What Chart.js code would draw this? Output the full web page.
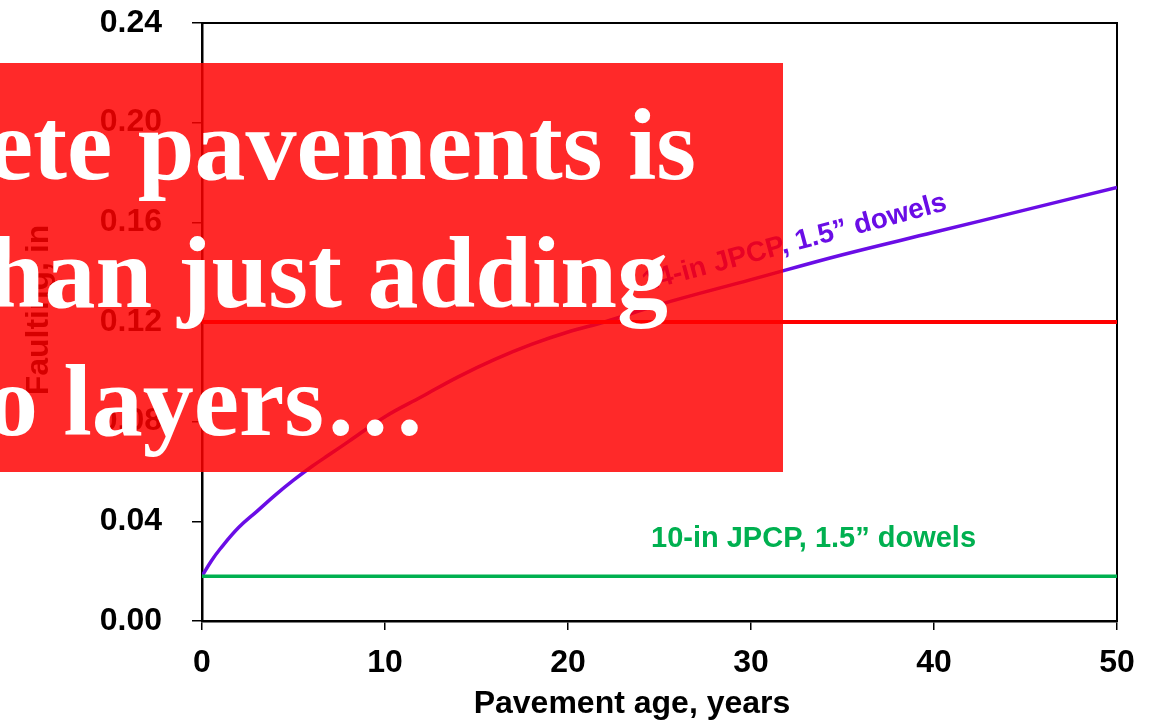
<!DOCTYPE html>
<html>
<head>
<meta charset="utf-8">
<script src="https://cdn.jsdelivr.net/npm/chart.js@4/dist/chart.umd.min.js"></script>
<style>
  html, body { margin: 0; padding: 0; background: #fff; }
  #wrap { width: 1155px; height: 728px; position: relative; }
</style>
</head>
<body>
<div id="wrap"><canvas id="chart"></canvas></div>
<script>
const years = [0, 0.5, 1, 2, 3, 4, 5, 6, 7, 8, 10, 12, 14, 16, 18, 20, 22, 25, 30, 35, 40, 45, 50];
const faulting14 = [0.018, 0.024, 0.029, 0.0375, 0.044, 0.0505, 0.0565, 0.062, 0.067, 0.072, 0.082, 0.090,
  0.098, 0.105, 0.111, 0.116, 0.120, 0.127, 0.137, 0.147, 0.156, 0.165, 0.174];
const flatYears = [0, 50];
const faulting10 = [0.018, 0.018];
const limitLine = [0.12, 0.12];

const xTicks = [0, 10, 20, 30, 40, 50];
const yTicks = [0, 0.04, 0.08, 0.12, 0.16, 0.20, 0.24];

const xTitle = 'Pavement age, years';
const yTitle = 'Faulting, in';
const label14 = '14-in JPCP, 1.5\u201D dowels';
const label10 = '10-in JPCP, 1.5\u201D dowels';
const slideLines = ['ete pavements is', 'han just adding', 'o layers\u2026'];

const SANS = "Arial, 'Liberation Sans', sans-serif";
const SERIF = "'Times New Roman', 'Liberation Serif', serif";
const PURPLE = '#6A0DE6';
const GREEN = '#00B050';
const RED = '#FF0000';

const pts = (xs, ys) => xs.map((x, i) => ({ x, y: ys[i] }));

const overlay = {
  id: 'overlay',
  beforeDatasetsDraw(chart) {
    const { ctx, chartArea: a } = chart;
    ctx.save();
    ctx.strokeStyle = '#000';
    ctx.lineWidth = 2;
    ctx.strokeRect(a.left, a.top, a.right - a.left, a.bottom - a.top);
    ctx.restore();
  },
  afterDraw(chart) {
    const { ctx } = chart;
    ctx.save();
    // axis titles
    ctx.fillStyle = '#000';
    ctx.font = `bold 32px ${SANS}`;
    ctx.textAlign = 'center';
    ctx.textBaseline = 'middle';
    ctx.fillText(xTitle, 632, 704);
    ctx.save();
    ctx.translate(39, 310);
    ctx.rotate(-Math.PI / 2);
    ctx.fillText(yTitle, 0, 0);
    ctx.restore();

    // series labels
    ctx.font = `bold 29px ${SANS}`;
    ctx.fillStyle = GREEN;
    ctx.textAlign = 'left';
    ctx.textBaseline = 'alphabetic';
    ctx.fillText(label10, 651, 547);

    ctx.save();
    ctx.font = `bold 28px ${SANS}`;
    ctx.fillStyle = PURPLE;
    ctx.translate(645, 291);
    ctx.rotate(-15 * Math.PI / 180);
    ctx.fillText(label14, 0, 0);
    ctx.restore();

    // slide box on top
    ctx.fillStyle = 'rgba(255, 0, 0, 0.84)';
    ctx.fillRect(0, 63, 783, 409);
    ctx.fillStyle = '#fff';
    ctx.font = `bold 102px ${SERIF}`;
    ctx.textAlign = 'right';
    ctx.fillText(slideLines[0], 696, 179);
    ctx.fillText(slideLines[1], 668, 307);
    ctx.fillText(slideLines[2], 426, 435);
    ctx.restore();
  }
};

new Chart(document.getElementById('chart'), {
  type: 'scatter',
  data: {
    datasets: [
      {
        label: '14-in',
        data: pts(years, faulting14),
        showLine: true,
        borderColor: PURPLE,
        borderWidth: 3.5,
        pointRadius: 0,
        tension: 0.4,
        order: 2
      },
      {
        label: '10-in',
        data: pts(flatYears, faulting10),
        showLine: true,
        borderColor: GREEN,
        borderWidth: 3.5,
        pointRadius: 0,
        order: 1
      },
      {
        label: 'limit',
        data: pts(flatYears, limitLine),
        showLine: true,
        borderColor: RED,
        borderWidth: 4,
        pointRadius: 0,
        order: 0
      }
    ]
  },
  options: {
    responsive: true,
    maintainAspectRatio: false,
    animation: false,
    layout: { padding: { top: 23, right: 38, bottom: 0, left: 0 } },
    plugins: { legend: { display: false }, tooltip: { enabled: false } },
    scales: {
      x: {
        type: 'linear',
        min: 0,
        max: 50,
        afterBuildTicks: (s) => { s.ticks = xTicks.map((v) => ({ value: v })); },
        afterFit: (s) => { s.height = 107; },
        border: { display: true, color: '#000', width: 2.5 },
        grid: { drawOnChartArea: false, drawTicks: true, tickLength: 9, color: '#000', lineWidth: 1.5 },
        ticks: { color: '#000', padding: 14, font: { family: SANS, size: 32, weight: 'bold' } }
      },
      y: {
        min: 0,
        max: 0.24,
        afterBuildTicks: (s) => { s.ticks = yTicks.map((v) => ({ value: v })); },
        afterFit: (s) => {
          s.width = 202;
          s.paddingTop = 0;
          s.paddingBottom = 0;
        },
        border: { display: true, color: '#000', width: 2.5 },
        grid: { drawOnChartArea: false, drawTicks: true, tickLength: 10, color: '#000', lineWidth: 1.5 },
        ticks: {
          color: '#000',
          padding: 30,
          font: { family: SANS, size: 32, weight: 'bold' },
          callback: (v) => Number(v).toFixed(2)
        }
      }
    }
  },
  plugins: [overlay]
});
</script>
</body>
</html>
